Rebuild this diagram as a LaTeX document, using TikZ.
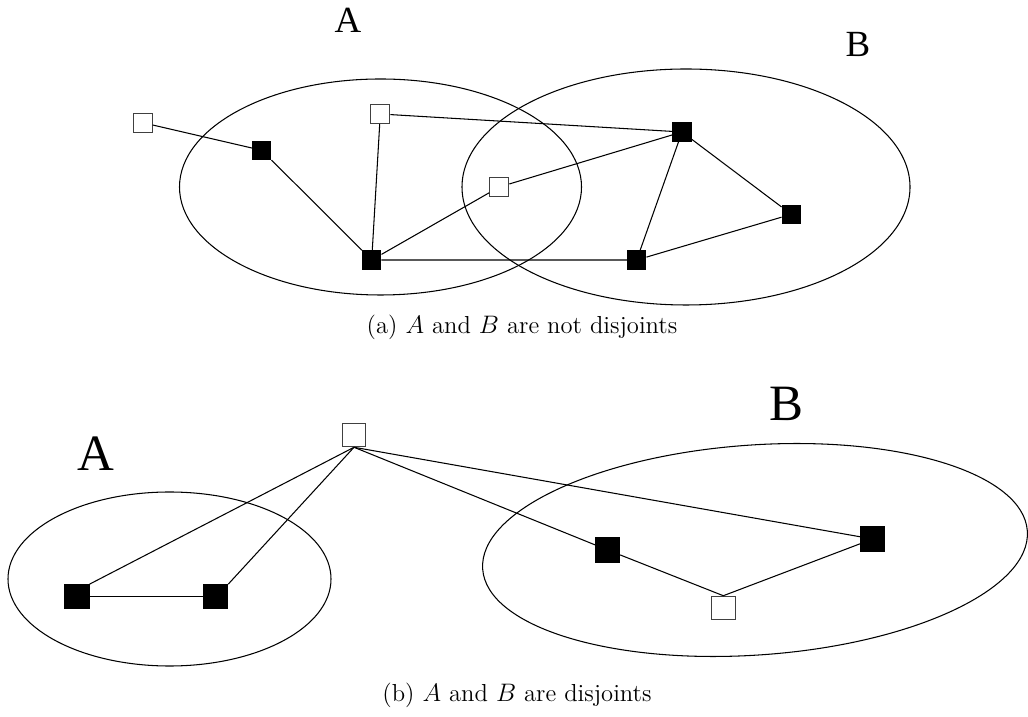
\documentclass[tikz,border=0pt]{standalone}
\usepackage{fontspec}
\newfontfamily\setfont{Liberation Serif}
\usetikzlibrary{positioning}
\tikzset{
  every picture/.style={line width=0.6pt},
  vtx/.style={draw=black!75, rectangle, inner sep=0pt, minimum size=#1},
  vtx/.default=0.38cm,
  blk/.style={vtx=#1, fill=black, draw=black},
  blk/.default=0.37cm,
  setlabel/.style={font=\setfont\fontsize{21}{24}\selectfont},
  biglabel/.style={font=\setfont\fontsize{29}{32}\selectfont},
  caption/.style={font=\fontsize{14}{16}\selectfont},
}
\begin{document}
\begin{tikzpicture}
  \useasboundingbox (0,0) rectangle (20.56,14.32);
  % (a) the two sets overlap
  \draw (7.61,10.58) ellipse (4.02 and 2.16);
  \draw (13.72,10.58) ellipse (4.48 and 2.36);
  \node[setlabel] (la) at (6.96,13.92) {A};
  \node[setlabel] (lb) at (17.16,13.44) {B};
  \node[vtx] (wa) at (2.854,11.866) {};
  \node[blk] (ba) at (5.234,11.314) {};
  \node[vtx] (wb) at (7.606,12.04) {};
  \node[blk] (bc) at (7.434,9.12) {};
  \node[vtx] (wc) at (9.986,10.58) {};
  \node[blk] (bd) at (13.64,11.68) {};
  \node[blk] (be) at (15.826,10.034) {};
  \node[blk] (bf) at (12.734,9.12) {};
  \draw (wa) -- (ba) -- (bc) -- (wb) -- (bd) -- (wc) -- (bc) -- (bf) -- (bd) -- (be) -- (bf);
  \node[caption] (capa) at (10.44,7.78) {(a) $A$ and $B$ are not disjoints};
  % (b) the two sets are apart
  \draw (3.39,2.74) ellipse (3.23 and 1.74);
  \draw[rotate around={4:(15.1,3.32)}] (15.1,3.32) ellipse (5.46 and 2.1);
  \node[biglabel] (lA) at (1.91,5.24) {A};
  \node[biglabel] (lB) at (15.72,6.24) {B};
  \node[vtx=0.47cm] (top) at (7.08,5.62) {};
  \node[blk=0.48cm] (bl) at (1.54,2.386) {};
  \node[blk=0.48cm] (br) at (4.314,2.386) {};
  \node[blk=0.48cm] (bm) at (12.154,3.32) {};
  \node[vtx=0.47cm] (wm) at (14.466,2.16) {};
  \node[blk=0.48cm] (bn) at (17.454,3.54) {};
  \draw (top.south) -- (bl.north east);
  \draw (top.south) -- (br.north east);
  \draw (top.south) -- (bm);
  \draw (top.south) -- (bn);
  \draw (bl) -- (br);
  \draw (bm) -- (wm.north) -- (bn);
  \node[caption] (capb) at (10.34,0.42) {(b) $A$ and $B$ are disjoints};
\end{tikzpicture}
\end{document}
